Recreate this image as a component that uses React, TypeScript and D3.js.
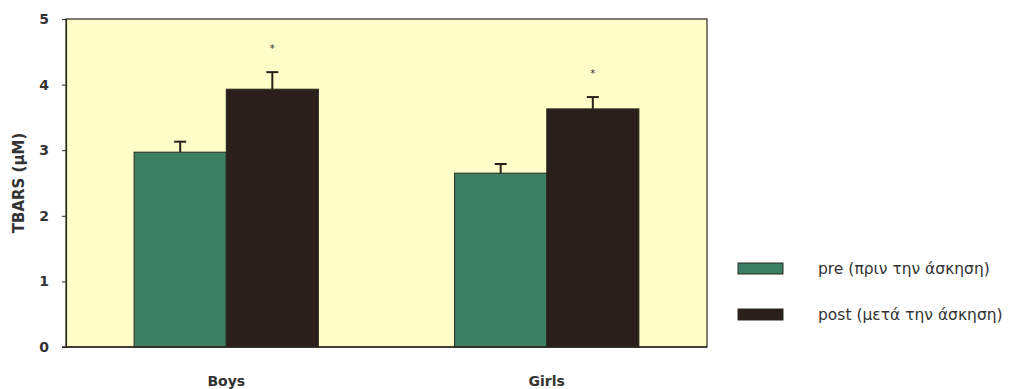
import React, { useEffect, useRef } from "react";
import * as d3 from "d3";

const groups = ["Boys", "Girls"];
const seriesNames = ["pre", "post"];
const seriesLabels = ["pre (πριν την άσκηση)", "post (μετά την άσκηση)"];
const preValues = [2.97, 2.65];
const postValues = [3.93, 3.63];
const preErrors = [0.16, 0.14];
const postErrors = [0.26, 0.18];
const yTicks = [0, 1, 2, 3, 4, 5];
const significant = [true, true];

const colors = { pre: "#3c7f64", post: "#2b1f1c" };

const App = () => {
  const ref = useRef<SVGSVGElement>(null);

  useEffect(() => {
    const svg = d3.select(ref.current);
    svg.selectAll("*").remove();

    const width = 1022;
    const height = 389;
    const margin = { top: 19, right: 315, bottom: 42, left: 66 };
    const font = "DejaVu Sans, Liberation Sans, sans-serif";

    const x0 = d3
      .scaleBand()
      .domain(groups)
      .range([margin.left, width - margin.right])
      .paddingInner(0.425)
      .paddingOuter(0.2125);

    const x1 = d3.scaleBand().domain(seriesNames).range([0, x0.bandwidth()]);

    const y = d3
      .scaleLinear()
      .domain([0, 5])
      .range([height - margin.bottom, margin.top]);

    // plot background
    svg
      .append("rect")
      .attr("x", margin.left)
      .attr("y", margin.top)
      .attr("width", width - margin.right - margin.left)
      .attr("height", y(0) - margin.top)
      .attr("fill", "#fffdc8")
      .attr("stroke", "#2a2a22")
      .attr("stroke-width", 1.2);

    const rows = groups.map((g, i) => ({
      group: g,
      values: [
        { key: "pre", value: preValues[i], err: preErrors[i] },
        { key: "post", value: postValues[i], err: postErrors[i] },
      ],
      sig: significant[i],
    }));

    const gGroups = svg
      .selectAll("g.grp")
      .data(rows)
      .enter()
      .append("g")
      .attr("class", "grp")
      .attr("transform", (d) => `translate(${x0(d.group)},0)`);

    // error bars (upper only)
    gGroups
      .selectAll("g.err")
      .data((d) => d.values)
      .enter()
      .append("g")
      .attr("class", "err")
      .each(function (d) {
        const g = d3.select(this);
        const cx = (x1(d.key) as number) + x1.bandwidth() / 2;
        g.append("line")
          .attr("x1", cx)
          .attr("x2", cx)
          .attr("y1", y(d.value))
          .attr("y2", y(d.value + d.err))
          .attr("stroke", "#2b1f1c")
          .attr("stroke-width", 2);
        g.append("line")
          .attr("x1", cx - 6)
          .attr("x2", cx + 6)
          .attr("y1", y(d.value + d.err))
          .attr("y2", y(d.value + d.err))
          .attr("stroke", "#2b1f1c")
          .attr("stroke-width", 2);
      });

    gGroups
      .selectAll("rect")
      .data((d) => d.values)
      .enter()
      .append("rect")
      .attr("x", (d) => x1(d.key) as number)
      .attr("y", (d) => y(d.value))
      .attr("width", x1.bandwidth())
      .attr("height", (d) => y(0) - y(d.value))
      .attr("fill", (d) => colors[d.key as "pre" | "post"])
      .attr("stroke", "#2a2a22")
      .attr("stroke-width", 1);

    // significance marks
    gGroups
      .filter((d) => d.sig)
      .append("text")
      .attr("x", (x1("post") as number) + x1.bandwidth() / 2)
      .attr("y", (d) => y(d.values[1].value + d.values[1].err) - 20)
      .attr("text-anchor", "middle")
      .attr("font-family", font)
      .attr("font-size", 10)
      .attr("fill", "#333")
      .text("*");

    // y axis
    const yAxis = svg
      .append("g")
      .attr("transform", `translate(${margin.left},0)`)
      .call(
        d3
          .axisLeft(y)
          .tickValues(yTicks)
          .tickFormat(d3.format("d"))
          .tickSize(4)
          .tickPadding(13)
      );
    yAxis.select(".domain").attr("stroke", "#2a2a22").attr("stroke-width", 1.2);
    yAxis.selectAll(".tick line").attr("stroke", "#2a2a22");
    yAxis
      .selectAll(".tick text")
      .attr("font-family", font)
      .attr("font-size", 14)
      .attr("font-weight", "bold")
      .attr("fill", "#333");

    // baseline extends slightly left
    svg
      .append("line")
      .attr("x1", margin.left - 4)
      .attr("x2", width - margin.right)
      .attr("y1", y(0))
      .attr("y2", y(0))
      .attr("stroke", "#2a2a22")
      .attr("stroke-width", 1.5);

    // x labels
    svg
      .selectAll("text.xlab")
      .data(groups)
      .enter()
      .append("text")
      .attr("class", "xlab")
      .attr("x", (d) => (x0(d) as number) + x0.bandwidth() / 2)
      .attr("y", 386)
      .attr("text-anchor", "middle")
      .attr("font-family", font)
      .attr("font-size", 14)
      .attr("font-weight", "bold")
      .attr("fill", "#333")
      .text((d) => d);

    // y title
    svg
      .append("text")
      .attr("transform", `translate(24,${(margin.top + y(0)) / 2}) rotate(-90)`)
      .attr("text-anchor", "middle")
      .attr("font-family", font)
      .attr("font-size", 15)
      .attr("font-weight", "bold")
      .attr("fill", "#333")
      .text("TBARS (μM)");

    // legend
    const legend = svg
      .selectAll("g.leg")
      .data(seriesNames)
      .enter()
      .append("g")
      .attr("class", "leg")
      .attr("transform", (d, i) => `translate(738,${263 + i * 46})`);
    legend
      .append("rect")
      .attr("width", 45)
      .attr("height", 11)
      .attr("fill", (d) => colors[d as "pre" | "post"])
      .attr("stroke", "#2a2a22")
      .attr("stroke-width", 1);
    legend
      .append("text")
      .attr("x", 80)
      .attr("y", 11)
      .attr("font-family", font)
      .attr("font-size", 15.5)
      .attr("fill", "#333")
      .text((d, i) => seriesLabels[i]);
  }, []);

  return (
    <svg
      ref={ref}
      width={1022}
      height={389}
      style={{ position: "absolute", left: 0, top: 0, background: "#fff" }}
    />
  );
};

export default App;
